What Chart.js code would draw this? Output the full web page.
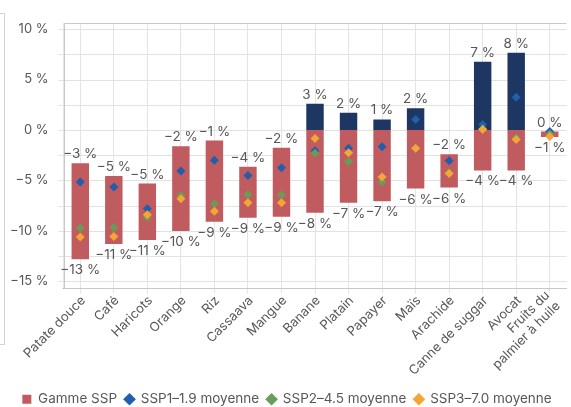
<!DOCTYPE html>
<html>
<head>
<meta charset="utf-8">
<script src="https://cdn.jsdelivr.net/npm/chart.js@4"></script>
<style>
  html, body { margin: 0; padding: 0; background: #fff; }
  #wrap { position: relative; width: 571px; height: 407px; }
  #frame { position: absolute; left: 0; top: 13px; width: 4px; height: 330px; border-right: 1px solid #d4d4d4; border-top: 1px solid #d4d4d4; border-bottom: 1px solid #d4d4d4; }
</style>
</head>
<body>
<div id="wrap">
  <div id="frame"></div>
  <canvas id="chart" width="571" height="407"></canvas>
</div>
<script>
// Données
const categories = ["Patate douce", "Café", "Haricots", "Orange", "Riz", "Cassaava", "Mangue", "Banane",
  "Platain", "Papayer", "Maïs", "Arachide", "Canne de suggar", "Avocat", ["Fruits du", "palmier à huile"]];
const rangeLow = [-12.8, -11.3, -10.9, -10.0, -9.1, -8.7, -8.6, -8.2, -7.2, -7.05, -5.8, -5.7, -4.0, -4.0, -0.7];
const rangeHigh = [-3.3, -4.55, -5.3, -1.6, -1.05, -3.65, -1.75, 2.6, 1.7, 1.05, 2.15, -2.4, 6.75, 7.65, -0.15];
const ssp1 = [-5.15, -5.65, -7.8, -4.05, -3.0, -4.5, -3.75, -2.05, -1.8, -1.65, 1.05, -3.05, 0.55, 3.25, -0.15];
const ssp2 = [-9.7, -9.65, -8.65, -6.5, -7.3, -6.4, -6.45, -2.3, -3.15, -5.15, -1.85, -4.2, 0.1, -0.8, -0.4];
const ssp3 = [-10.6, -10.55, -8.4, -6.8, -8.05, -7.2, -7.2, -0.85, -2.25, -4.65, -1.8, -4.3, 0.05, -0.95, -0.65];
const yTicks = [-15, -12.5, -10, -7.5, -5, -2.5, 0, 2.5, 5, 7.5, 10];

const textColor = "#575757";
const fontFamily = "Inter, 'Open Sans', sans-serif";

// Format "−3 %"
function pct(v) {
  const r = Math.round(v);
  return (r < 0 ? "\u2212" + Math.abs(r) : String(Math.abs(r))) + " %";
}

// Grille horizontale, cadre, étiquettes des barres et des catégories
const rangeLabels = {
  id: "rangeLabels",
  beforeDatasetsDraw(chart) {
    const { ctx, chartArea: a, scales: { y } } = chart;
    ctx.save();
    ctx.lineWidth = 1;
    ctx.strokeStyle = "#e2e2e2";
    yTicks.forEach(v => {
      const py = Math.round(y.getPixelForValue(v)) + 0.5;
      ctx.beginPath();
      ctx.moveTo(a.left - 5, py);
      ctx.lineTo(a.right, py);
      ctx.stroke();
    });
    ctx.strokeStyle = "#c8c8c8";
    const top = Math.round(a.top) + 0.5;
    const left = Math.round(a.left) + 0.5;
    ctx.beginPath();
    ctx.moveTo(a.right, top);
    ctx.lineTo(left, top);
    ctx.lineTo(left, a.bottom);
    ctx.stroke();
    ctx.restore();
  },
  afterDatasetsDraw(chart) {
    const { ctx, chartArea: a, scales: { x, y } } = chart;
    ctx.save();
    ctx.font = "13.5px " + fontFamily;
    ctx.fillStyle = textColor;
    ctx.textAlign = "center";
    ctx.textBaseline = "middle";
    categories.forEach((c, i) => {
      const px = x.getPixelForValue(i);
      ctx.fillText(pct(rangeHigh[i]), px, y.getPixelForValue(rangeHigh[i]) - 9);
      ctx.fillText(pct(rangeLow[i]), px, y.getPixelForValue(rangeLow[i]) + 11);
    });

    // catégories à 45°
    ctx.font = "13px " + fontFamily;
    ctx.textAlign = "right";
    categories.forEach((c, i) => {
      const lines = Array.isArray(c) ? c : [c];
      const lh = 15;
      ctx.save();
      ctx.translate(x.getPixelForValue(i) + 3, a.bottom + 10);
      ctx.rotate(-Math.PI / 4);
      lines.forEach((t, k) => {
        ctx.fillText(t, 0, (k - (lines.length - 1) / 2) * lh);
      });
      ctx.restore();
    });
    ctx.restore();
  }
};

const diamond = (label, data, color, order) => ({
  type: "line",
  label,
  data,
  showLine: false,
  pointStyle: "rectRot",
  pointRadius: 4.5,
  pointHoverRadius: 4.5,
  pointBorderWidth: 0,
  backgroundColor: color,
  borderColor: color,
  order
});

new Chart(document.getElementById("chart"), {
  type: "bar",
  data: {
    labels: categories,
    datasets: [
      {
        label: "Gamme SSP",
        data: rangeLow.map((lo, i) => [lo, Math.min(rangeHigh[i], 0)]),
        backgroundColor: "#c05b5f",
        grouped: false,
        barPercentage: 0.52,
        categoryPercentage: 1,
        order: 10
      },
      {
        label: "hausse",
        data: rangeHigh.map(h => (h > 0 ? [0, h] : null)),
        backgroundColor: "#1e3762",
        grouped: false,
        barPercentage: 0.52,
        categoryPercentage: 1,
        order: 9
      },
      diamond("SSP1\u20131.9 moyenne", ssp1, "#1f5fae", 3),
      diamond("SSP2\u20134.5 moyenne", ssp2, "#6b9b58", 2),
      diamond("SSP3\u20137.0 moyenne", ssp3, "#f5a535", 1)
    ]
  },
  options: {
    responsive: false,
    animation: false,
    layout: { padding: { top: 23, left: 3, right: 0, bottom: -9 } },
    plugins: {
      tooltip: { enabled: false },
      legend: {
        position: "bottom",
        labels: {
          usePointStyle: true,
          boxWidth: 9,
          boxHeight: 9,
          padding: 8,
          color: textColor,
          font: { family: fontFamily, size: 13.5 },
          filter: item => item.text !== "hausse",
          sort: (a, b) => a.datasetIndex - b.datasetIndex,
          generateLabels(chart) {
            const items = Chart.defaults.plugins.legend.labels.generateLabels(chart);
            items.forEach(it => { if (it.datasetIndex === 0) it.pointStyle = "rect"; it.lineWidth = 0; });
            return items;
          }
        }
      }
    },
    scales: {
      x: {
        offset: true,
        afterFit: s => { s.height = 96; },
        grid: { offset: false, color: "#e4e4e4", tickLength: 5 },
        border: { color: "#c8c8c8" },
        ticks: { display: false }
      },
      y: {
        min: -15.7,
        max: 10.6,
        afterBuildTicks: s => { s.ticks = yTicks.map(v => ({ value: v })); },
        grid: { display: false },
        ticks: {
          autoSkip: false,
          color: textColor,
          font: { family: fontFamily, size: 13 },
          padding: 7,
          callback: v => (v % 5 === 0 ? pct(v) : "")
        }
      }
    }
  },
  plugins: [rangeLabels]
});
</script>
</body>
</html>
